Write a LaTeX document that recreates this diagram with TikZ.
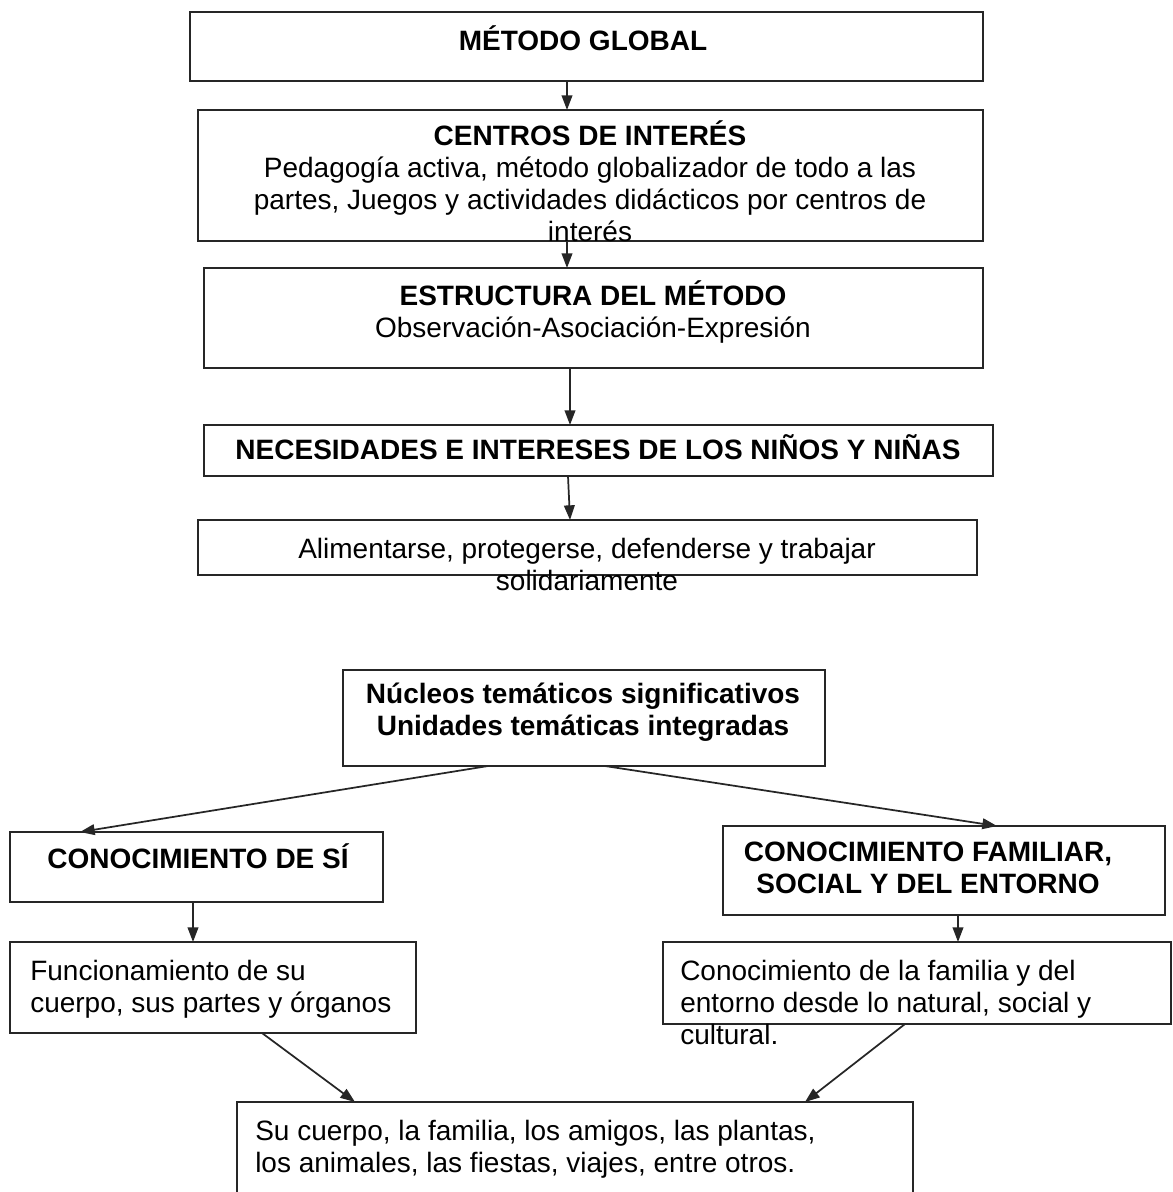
\documentclass[tikz,border=0pt]{standalone}
\usepackage{fontspec}
\setmainfont{Liberation Sans}
\usetikzlibrary{arrows.meta}
\newcommand\pbox[5]{\node[box,minimum width=(#4-#2)*0.75pt,minimum height=(#5-#3)*0.75pt] (#1) at (#2,#3) {};}
\begin{document}
\begin{tikzpicture}[x=0.75pt,y=-0.75pt,
 box/.style={draw=black!85,line width=1.5pt,inner sep=0pt,outer sep=0pt,anchor=north west},
 txt/.style={inner sep=0pt,font=\fontsize{21}{24}\selectfont,align=center,anchor=base},
 ltxt/.style={txt,align=left,anchor=base west},
 arr/.style={-{Triangle[length=11pt,width=8pt]},line width=1.3pt,draw=black!85,fill=black!85}]
\useasboundingbox[fill=white] (0,0) rectangle (1172,1192);
% top chain boxes
\pbox{b1}{190}{12}{983}{81}
\pbox{b2}{198}{110}{983}{241}
\pbox{b3}{204}{268}{983}{368}
\pbox{b4}{204}{425}{993}{476}
\pbox{b5}{198}{520}{977}{575}
% bottom boxes
\pbox{b6}{343}{670}{825}{766}
\pbox{b7}{10}{832}{383}{902}
\pbox{b8}{723}{826}{1165}{915}
\pbox{b9}{10}{942}{416}{1033}
\pbox{b10}{663}{942}{1171}{1024}
\pbox{b11}{237}{1102}{913}{1200}
% texts (anchor = baseline of the last line)
\node[txt] (t1) at (583,50) {\bfseries MÉTODO GLOBAL};
\node[txt] (t2) at (590,241) {{\bfseries CENTROS DE INTERÉS}\\Pedagogía activa, método globalizador de todo a las\\partes, Juegos y actividades didácticos por centros de\\interés};
\node[txt] (t3) at (593,337) {{\bfseries ESTRUCTURA DEL MÉTODO}\\Observación-Asociación-Expresión};
\node[txt] (t4) at (598,459) {\bfseries NECESIDADES E INTERESES DE LOS NIÑOS Y NIÑAS};
\node[txt] (t5) at (587,590) {Alimentarse, protegerse, defenderse y trabajar\\solidariamente};
\node[txt,font=\fontsize{21}{24}\selectfont\bfseries] (t6) at (583,735) {Núcleos temáticos significativos\\Unidades temáticas integradas};
\node[txt] (t7) at (198,868) {\bfseries CONOCIMIENTO DE SÍ};
\node[txt,font=\fontsize{21}{24}\selectfont\bfseries] (t8) at (928,893) {CONOCIMIENTO FAMILIAR,\\SOCIAL Y DEL ENTORNO};
\node[ltxt] (t9) at (30,1012) {Funcionamiento de su\\cuerpo, sus partes y órganos};
\node[ltxt] (t10) at (680,1044) {Conocimiento de la familia y del\\entorno desde lo natural, social y\\cultural.};
\node[ltxt] (t11) at (255,1172) {Su cuerpo, la familia, los amigos, las plantas,\\los animales, las fiestas, viajes, entre otros.};
% connectors
\draw[arr] (b1.south -| 567,0) -- (b2.north -| 567,0);
\draw[arr] (b2.south -| 567,0) -- (b3.north -| 567,0);
\draw[arr] (b3.south -| 570,0) -- (b4.north -| 570,0);
\draw[arr] (b4.south -| 568,0) -- (b5.north -| 570,0);
\draw[arr] (b6.south -| 488,0) -- (b7.north -| 80,0);
\draw[arr] (b6.south -| 605,0) -- (b8.north -| 997,0);
\draw[arr] (b7.south -| 193,0) -- (b9.north -| 193,0);
\draw[arr] (b8.south -| 958,0) -- (b10.north -| 958,0);
\draw[arr] (b9.south -| 262,0) -- (b11.north -| 355,0);
\draw[arr] (b10.south -| 905,0) -- (b11.north -| 805,0);
\end{tikzpicture}
\end{document}
